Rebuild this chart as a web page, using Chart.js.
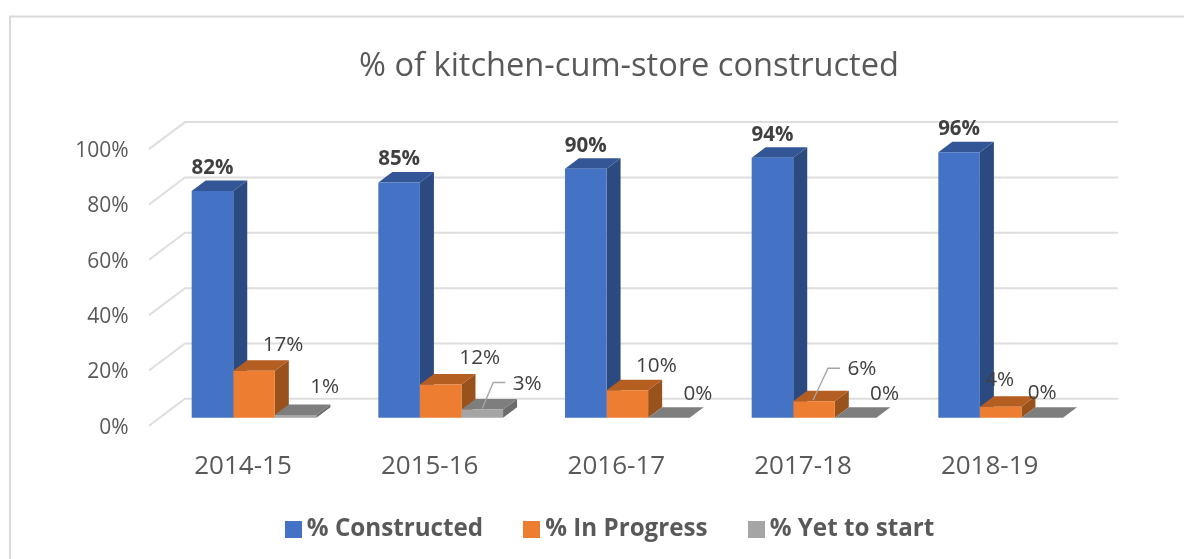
<!DOCTYPE html>
<html>
<head>
<meta charset="utf-8">
<style>html,body{margin:0;padding:0;background:#fff}canvas{display:block}</style>
<script src="https://cdn.jsdelivr.net/npm/chart.js@4"></script>
</head>
<body>
<canvas id="c" width="1184" height="559"></canvas>
<script>
const categories = ['2014-15', '2015-16', '2016-17', '2017-18', '2018-19'];
const constructed = [82, 85, 90, 94, 96];
const inProgress = [17, 12, 10, 6, 4];
const yetToStart = [1, 3, 0, 0, 0];
const seriesNames = ['% Constructed', '% In Progress', '% Yet to start'];
const frontColors = ['#4472C4', '#ED7D31', '#A5A5A5'];
const sideColors = ['#2B4A80', '#9A521D', '#6C6C6C'];
const topColors = ['#335796', '#B55E22', '#7E7E7E'];
const titleText = '% of kitchen-cum-store constructed';

const labelDx = [[0,0,0,0,0],[29,39,29,48,-1],[29,45,29,29,0]];
const labelDy = [[-23,-23,-23,-23,-23],[-26,-26,-24,-32,-27],[-28,-25,-24,-24,-25]];
const leaders = [
  {series:2, index:1, pts:[[0,-1],[11,-27],[23,-27]]},
  {series:1, index:3, pts:[[-1,-1],[14,-33],[26,-33]]}
];
const FRONT_LIFT = 8, BAR_DX = 14, BAR_DY = 10.5, WALL_DX = 36, WALL_DY = 27;

function poly(ctx, pts, fill){
  ctx.beginPath();
  pts.forEach((p,i)=> i ? ctx.lineTo(p[0],p[1]) : ctx.moveTo(p[0],p[1]));
  ctx.closePath();
  ctx.fillStyle = fill;
  ctx.fill();
}

const box3d = {
  id: 'box3d',
  afterLayout(chart){
    const t = chart.titleBlock, l = chart.legend;
    t.left = 0; t.right = 1258;
    l.left = 0; l.right = 1226;
    const h = l.bottom - l.top;
    l.top = 470; l.bottom = 470 + h;
  },
  beforeDraw(chart){
    const ctx = chart.ctx;
    ctx.save();
    ctx.fillStyle = '#fff';
    ctx.fillRect(0,0,chart.width,chart.height);
    ctx.strokeStyle = '#D9D9D9';
    ctx.lineWidth = 2;
    ctx.beginPath();
    ctx.moveTo(10,559); ctx.lineTo(10,16.5); ctx.lineTo(1184,16.5);
    ctx.stroke();
    ctx.restore();
  },
  beforeDatasetsDraw(chart){
    const ctx = chart.ctx, y = chart.scales.y, a = chart.chartArea;
    const wallLeft = a.left - 11.7;
    ctx.save();
    ctx.strokeStyle = '#DEDEDE';
    ctx.lineWidth = 2;
    y.ticks.forEach(t=>{
      const py = y.getPixelForValue(t.value);
      ctx.beginPath();
      ctx.moveTo(wallLeft, py);
      ctx.lineTo(wallLeft + WALL_DX, py - WALL_DY);
      ctx.lineTo(a.right + 24, py - WALL_DY);
      ctx.stroke();
    });
    ctx.restore();
    ctx.save();
    ctx.translate(0,-FRONT_LIFT);
    categories.forEach((_,j)=>{
      chart.data.datasets.forEach((ds,i)=>{
        const b = chart.getDatasetMeta(i).data[j];
        const L = b.x - b.width/2, R = b.x + b.width/2, T = b.y, B = b.base;
        poly(ctx,[[R,B],[R,T],[R+BAR_DX,T-BAR_DY],[R+BAR_DX,B-BAR_DY]],sideColors[i]);
        poly(ctx,[[L,T],[R,T],[R+BAR_DX,T-BAR_DY],[L+BAR_DX,T-BAR_DY]],topColors[i]);
      });
    });
  },
  afterDatasetsDraw(chart){
    const ctx = chart.ctx;
    ctx.restore();
    ctx.save();
    ctx.strokeStyle = '#A6A6A6';
    ctx.lineWidth = 1.4;
    leaders.forEach(l=>{
      const b = chart.getDatasetMeta(l.series).data[l.index];
      ctx.beginPath();
      l.pts.forEach((p,i)=>{
        const px = b.x + p[0], py = b.y - FRONT_LIFT + p[1];
        i ? ctx.lineTo(px,py) : ctx.moveTo(px,py);
      });
      ctx.stroke();
    });
    ctx.textAlign = 'center';
    ctx.textBaseline = 'middle';
    chart.data.datasets.forEach((ds,i)=>{
      ctx.font = (i===0 ? 'bold 20.5px' : '20.7px') + ' "Open Sans"';
      ctx.fillStyle = '#404040';
      chart.getDatasetMeta(i).data.forEach((b,j)=>{
        ctx.fillText(ds.data[j] + '%', b.x + labelDx[i][j], b.y - FRONT_LIFT + labelDy[i][j]);
      });
    });
    ctx.restore();
  }
};

function swatch(color){
  const c = document.createElement('canvas');
  c.width = 17; c.height = 17;
  const x = c.getContext('2d');
  x.fillStyle = color; x.fillRect(0,0,17,17);
  return c;
}

new Chart(document.getElementById('c'), {
  type: 'bar',
  data: {
    labels: categories,
    datasets: [constructed, inProgress, yetToStart].map((d,i)=>({
      label: seriesNames[i],
      data: d,
      backgroundColor: frontColors[i],
      barPercentage: 1,
      categoryPercentage: 0.668,
      clip: false
    }))
  },
  plugins: [box3d],
  options: {
    responsive: false,
    animation: false,
    layout: {padding: {left: 0, right: 90, top: 0, bottom: 0}},
    plugins: {
      tooltip: {enabled: false},
      title: {
        display: true,
        text: titleText,
        color: '#595959',
        font: {family: '"Open Sans"', size: 32.6, weight: 'normal', lineHeight: 1.2},
        padding: {top: 47, bottom: 63}
      },
      legend: {
        display: true,
        position: 'bottom',
        labels: {
          usePointStyle: true,
          pointStyleWidth: 3,
          color: '#595959',
          font: {family: '"Open Sans"', size: 24.2, weight: 'bold'},
          padding: 47,
          generateLabels(chart){
            return chart.data.datasets.map((ds,i)=>({
              text: ds.label,
              pointStyle: swatch(frontColors[i]),
              fontColor: '#595959',
              datasetIndex: i,
              lineWidth: 0
            }));
          }
        }
      }
    },
    scales: {
      x: {
        grid: {display: false},
        border: {display: false},
        ticks: {color: '#595959', font: {family: '"Open Sans"', size: 26}, padding: 17, labelOffset: -11, maxRotation: 0},
        afterFit(s){ s.height = 52; }
      },
      y: {
        min: 0, max: 100,
        grid: {display: false},
        border: {display: false},
        ticks: {
          stepSize: 20,
          color: '#595959',
          padding: 24,
          labelOffset: 2,
          font: {family: '"Open Sans"', size: 21},
          callback: v => v + '%'
        },
        afterFit(s){ s.width = 160.7; }
      }
    }
  }
});
</script>
</body>
</html>
